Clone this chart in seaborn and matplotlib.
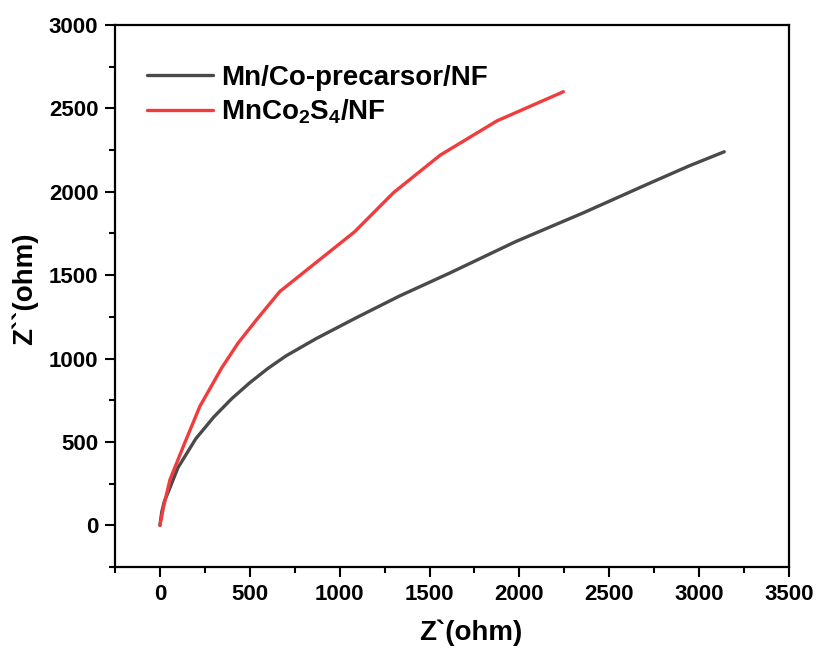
import matplotlib
matplotlib.use("Agg")
import matplotlib.pyplot as plt
from matplotlib.ticker import MultipleLocator
import seaborn as sns
import pandas as pd

# Data
precursor_x = [0, 10, 25, 50, 100, 200, 300, 400, 500, 600, 700, 870, 1093, 1333, 1611, 1981, 2352, 2722, 2944, 3140]
precursor_y = [0, 80, 145, 210, 345, 520, 650, 760, 855, 940, 1015, 1120, 1245, 1375, 1512, 1702, 1872, 2050, 2155, 2240]
sulfide_x = [0, 20, 56, 130, 222, 343, 435, 537, 667, 1083, 1300, 1560, 1875, 2245]
sulfide_y = [0, 110, 274, 473, 713, 943, 1093, 1232, 1402, 1760, 1995, 2220, 2425, 2600]
labels = ["Mn/Co-precarsor/NF", r"MnCo$_2$S$_4$/NF"]
colors = ["#4a4a4a", "#f03c3c"]

df = pd.concat([
    pd.DataFrame({"x": precursor_x, "y": precursor_y, "s": labels[0]}),
    pd.DataFrame({"x": sulfide_x, "y": sulfide_y, "s": labels[1]}),
])

sns.set_style("ticks")
plt.rcParams['font.family'] = ['Liberation Sans', 'DejaVu Sans']
plt.rcParams['font.weight'] = 'bold'
plt.rcParams['text.color'] = 'black'
plt.rcParams['axes.labelcolor'] = 'black'
plt.rcParams['xtick.color'] = 'black'
plt.rcParams['ytick.color'] = 'black'
plt.rcParams['mathtext.fontset'] = 'custom'
plt.rcParams['mathtext.rm'] = 'Liberation Sans:bold'
plt.rcParams['mathtext.it'] = 'Liberation Sans:bold'
plt.rcParams['mathtext.bf'] = 'Liberation Sans:bold'
plt.rcParams['mathtext.default'] = 'bf'

fig = plt.figure(figsize=(8.18, 6.53), dpi=100)
ax = fig.add_axes([0.1406, 0.1317, 0.8239, 0.8300])

sns.lineplot(data=df, x="x", y="y", hue="s", palette=colors, sort=False,
             estimator=None, linewidth=2.4, ax=ax)

ax.set_xlim(-250, 3500)
ax.set_ylim(-250, 3000)
ax.xaxis.set_major_locator(MultipleLocator(500))
ax.xaxis.set_minor_locator(MultipleLocator(250))
ax.yaxis.set_major_locator(MultipleLocator(500))
ax.yaxis.set_minor_locator(MultipleLocator(250))
ax.tick_params(which='major', direction='out', length=7, width=1.5, labelsize=16, pad=5)
ax.tick_params(which='minor', direction='out', length=4, width=1.5)
for lab in ax.get_xticklabels() + ax.get_yticklabels():
    lab.set_fontweight('bold')
for sp in ax.spines.values():
    sp.set_linewidth(1.6)
    sp.set_color('black')

ax.set_xlabel("Z`(ohm)", fontsize=20, fontweight='bold', labelpad=11)
ax.set_ylabel("Z``(ohm)", fontsize=20, fontweight='bold', labelpad=8)
ax.xaxis.label.set_x(0.528)
ax.yaxis.label.set_y(0.513)

leg = ax.legend(loc='upper left', frameon=False, fontsize=20, handlelength=2.35,
                handletextpad=0.3, borderaxespad=0.3, bbox_to_anchor=(0.019, 0.963),
                labelspacing=0.25)
for t in leg.get_texts():
    t.set_fontweight('bold')

fig.savefig("out.png", dpi=100)
